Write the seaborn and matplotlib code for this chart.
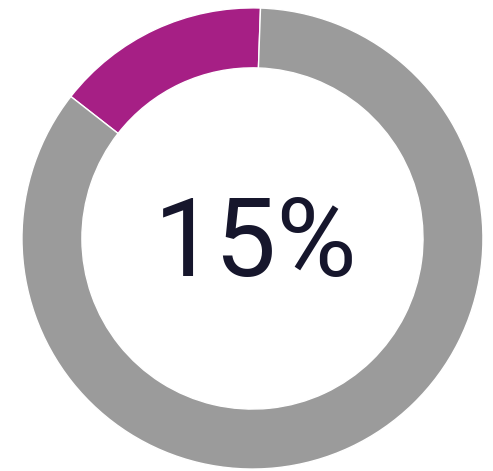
import matplotlib
matplotlib.use("Agg")
import matplotlib.pyplot as plt
import seaborn as sns

# Donut gauge: share completed vs remaining
labels = ["Done", "Remaining"]
values = [15, 85]
center_label = "15%"

sns.set_theme(style="white")
plt.rcParams['font.family'] = ['Roboto', 'DejaVu Sans']

colors = sns.color_palette(["#A61F85", "#9B9B9B"])

fig = plt.figure(figsize=(4.93, 4.71), dpi=100)
fig.patch.set_facecolor("white")
ax = fig.add_axes([0.0446, 0.0042, 0.935, 0.979])

ax.pie(
    values,
    colors=colors,
    startangle=88,
    counterclock=True,
    radius=1.0,
    wedgeprops=dict(width=0.26, edgecolor="white", linewidth=1),
)
ax.set_xlim(-1, 1)
ax.set_ylim(-1, 1)
ax.set_aspect("auto")
ax.axis("off")

ax.text(0.015, -0.033, center_label, ha="center", va="center",
        fontsize=79, color="#16162C")

plt.savefig("out.png", dpi=100, facecolor="white")
